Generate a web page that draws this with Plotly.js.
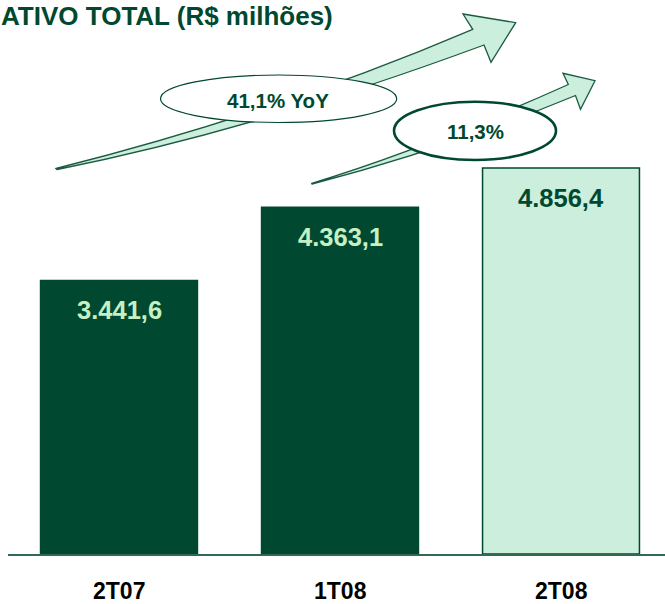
<!DOCTYPE html>
<html>
<head>
<meta charset="utf-8">
<script src="https://cdn.plot.ly/plotly-3.0.1.min.js"></script>
<style>html,body{margin:0;padding:0;background:#fff;}#chart{width:665px;height:604px;}</style>
</head>
<body>
<div id="chart"></div>
<script>
// ---- data ----
var categories = ["2T07", "1T08", "2T08"];
var values = [3441.6, 4363.1, 4856.4];
var chartTitle = "ATIVO TOTAL (R$ milhões)";

// ---- styles ----
var DARK = "#004830";
var LIGHT = "#CCEEDC";
var FONT = "'Liberation Sans', Arial, sans-serif";
var W = 665, H = 604, ML = 8, MB = 50;
var PW = W - ML, PH = H - MB;

function px(x) { return (x - ML) / PW; }
function py(y) { return (PH - y) / PH; }
function pt(p) { return px(p[0]).toFixed(5) + "," + py(p[1]).toFixed(5); }

function fmtBR(v, d) {
  var s = v.toFixed(d).split(".");
  var ip = s[0].replace(/\B(?=(\d{3})+(?!\d))/g, ".");
  return d > 0 ? ip + "," + s[1] : ip;
}

var yoy = (values[2] / values[0] - 1) * 100;
var qoq = (values[2] / values[1] - 1) * 100;

function arrowPath(tailTop, c1, upEnd, barb1, tip, barb2, lowEnd, c2, tailBot) {
  return "M" + pt(tailTop) + " Q" + pt(c1) + " " + pt(upEnd) +
    " L" + pt(barb1) + " L" + pt(tip) + " L" + pt(barb2) + " L" + pt(lowEnd) +
    " Q" + pt(c2) + " " + pt(tailBot) + " Z";
}

var arrow1 = arrowPath([56, 168.5], [277.6, 112.6], [472.7, 29.3], [463, 14], [515.7, 22.7],
  [491, 62.3], [484, 45], [254, 130.1], [57, 169.5]);
var arrow2 = arrowPath([311.7, 183.3], [424, 149.3], [568.3, 84.5], [563, 73.3], [595, 80.7],
  [580.5, 109.3], [575.5, 95.5], [444, 149.7], [312, 184]);

var barColors = values.map(function (v, i) { return i === values.length - 1 ? LIGHT : DARK; });
var labelColors = values.map(function (v, i) { return i === values.length - 1 ? DARK : "#C4F0C4"; });

var trace = {
  type: "bar",
  x: categories.map(function (c, i) { return i; }),
  y: values,
  width: 0.71,
  marker: { color: barColors, line: { color: DARK, width: 1.5 } },
  hoverinfo: "skip"
};

var annotations = [];
annotations.push({
  xref: "paper", yref: "paper", x: px(0), y: py(0), xanchor: "left", yanchor: "top",
  text: "<b>" + chartTitle + "</b>", showarrow: false, borderpad: 0,
  font: { family: FONT, size: 26, color: DARK }
});
values.forEach(function (v, i) {
  annotations.push({
    xref: "x", yref: "y", x: i, y: v, yshift: -30, xanchor: "center", yanchor: "middle",
    text: "<b>" + fmtBR(v, 1) + "</b>", showarrow: false,
    font: { family: FONT, size: 25.5, color: labelColors[i] }
  });
  annotations.push({
    xref: "x", yref: "paper", x: i, y: py(591), xanchor: "center", yanchor: "middle",
    text: "<b>" + categories[i] + "</b>", showarrow: false, borderpad: 0,
    font: { family: FONT, size: 23, color: "#000" }
  });
});
annotations.push({
  xref: "paper", yref: "paper", x: px(278), y: py(100), xanchor: "center", yanchor: "middle",
  text: "<b>" + fmtBR(yoy, 1) + "% YoY</b>", showarrow: false,
  font: { family: FONT, size: 20.5, color: DARK }
});
annotations.push({
  xref: "paper", yref: "paper", x: px(475), y: py(131), xanchor: "center", yanchor: "middle",
  text: "<b>" + fmtBR(qoq, 1) + "%</b>", showarrow: false,
  font: { family: FONT, size: 20.5, color: DARK }
});

var shapes = [
  { type: "path", xref: "paper", yref: "paper", path: arrow1, fillcolor: LIGHT,
    line: { color: "#1B5A40", width: 1.3 } },
  { type: "circle", xref: "paper", yref: "paper", x0: px(160.5), x1: px(396.7), y0: py(122.5), y1: py(75),
    fillcolor: "#FFFFFF", line: { color: DARK, width: 1.2 } },
  { type: "path", xref: "paper", yref: "paper", path: arrow2, fillcolor: LIGHT,
    line: { color: "#1B5A40", width: 1.3 } },
  { type: "circle", xref: "paper", yref: "paper", x0: px(394), x1: px(556), y0: py(160), y1: py(101.7),
    fillcolor: "#FFFFFF", line: { color: DARK, width: 2.6 } }
];

var layout = {
  width: W, height: H,
  margin: { l: ML, r: 0, t: 0, b: MB, pad: 0 },
  paper_bgcolor: "#FFFFFF", plot_bgcolor: "#FFFFFF",
  showlegend: false,
  font: { family: FONT },
  xaxis: {
    range: [-111 / 221, -111 / 221 + PW / 221],
    showticklabels: false, ticks: "", showgrid: false, zeroline: false,
    showline: true, linecolor: "#2E6B50", linewidth: 2, fixedrange: true
  },
  yaxis: {
    range: [0, PH / 0.0795], visible: false, showgrid: false, zeroline: false, fixedrange: true
  },
  shapes: shapes,
  annotations: annotations
};

Plotly.newPlot("chart", [trace], layout, { staticPlot: true, displayModeBar: false });
</script>
</body>
</html>
